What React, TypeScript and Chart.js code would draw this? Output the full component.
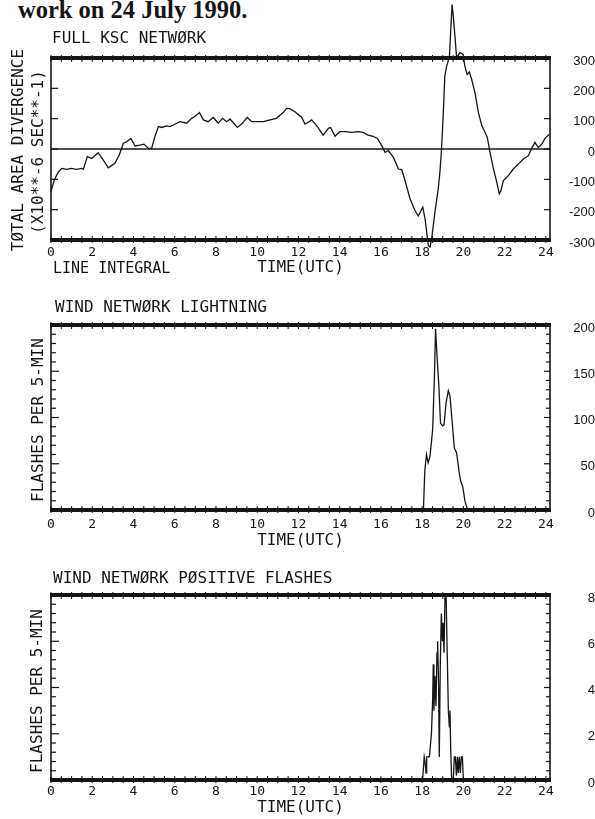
import React, { useEffect, useRef } from "react";
import { Chart, registerables } from "chart.js";

Chart.register(...registerables);

// ---------- data ----------
const hourTicks = [0, 2, 4, 6, 8, 10, 12, 14, 16, 18, 20, 22, 24];
const X_MAX = 24.2;

// Panel 1: total area divergence (x10**-6 s**-1), line integral, full KSC network
const divTimes = [
  0, 0.16, 0.36, 0.52, 0.76, 0.99, 1.24, 1.49, 1.57, 1.76, 1.97, 2.29, 2.53, 2.78, 3.1, 3.31,
  3.51, 3.67, 3.87, 4.08, 4.31, 4.51, 4.72, 4.88, 5.04, 5.21, 5.37, 5.61, 5.77, 5.93, 6.26,
  6.58, 6.82, 6.98, 7.2, 7.39, 7.62, 7.87, 8.11, 8.32, 8.52, 8.68, 9.04, 9.24, 9.52, 9.73,
  9.97, 10.3, 10.62, 10.93, 11.26, 11.43, 11.59, 11.83, 12.15, 12.32, 12.48, 12.64, 12.88,
  13.2, 13.45, 13.56, 13.77, 14.01, 14.25, 14.58, 14.91, 15.13, 15.38, 15.62, 15.83, 16.04,
  16.2, 16.36, 16.6, 16.85, 17.01, 17.17, 17.41, 17.65, 17.81, 18.03, 18.14, 18.3, 18.38,
  18.46, 18.62, 18.78, 18.86, 18.94, 19.02, 19.1, 19.19, 19.32, 19.38, 19.45, 19.51, 19.59,
  19.67, 19.83, 19.99, 20.07, 20.18, 20.29, 20.4, 20.56, 20.73, 20.89, 21.05, 21.16, 21.29,
  21.46, 21.62, 21.74, 21.82, 21.94, 22.18, 22.42, 22.67, 22.91, 23.15, 23.31, 23.47, 23.63,
  23.8, 23.96, 24.17,
];
const divValues = [
  -140, -102, -75, -64, -67, -64, -67, -64, -67, -25, -31, -12, -36, -62, -47, -20,
  19, 24, 35, 10, 13, 16, 2, 2, 41, 74, 71, 76, 74, 79, 90,
  85, 101, 107, 120, 96, 90, 104, 85, 101, 90, 99, 71, 82, 104, 90,
  90, 90, 96, 101, 120, 134, 132, 123, 105, 82, 88, 96, 77,
  46, 68, 71, 42, 57, 57, 55, 57, 55, 46, 42, 35, 11,
  -11, -5, -27, -66, -68, -104, -164, -203, -221, -192, -230, -318, -323,
  -296, -208, -131, -77, 0, 110, 241, 274, 301, 383, 476, 438, 372,
  301, 318, 312, 274, 246, 254, 230, 186, 120, 77, 55, 38, -11,
  -66, -110, -148, -137, -104, -88, -66, -49, -33, -22, 2, 22, 5,
  16, 35, 49,
];
const divTicks = [-300, -200, -100, 0, 100, 200, 300];

// Panel 2: wind network lightning, flashes per 5 min
const lightTimes = [
  0, 18.06, 18.13, 18.21, 18.29, 18.38, 18.51, 18.59, 18.65, 18.72, 18.81, 18.89, 18.99,
  19.06, 19.16, 19.27, 19.35, 19.46, 19.56, 19.67, 19.8, 19.87, 19.97, 20.08, 20.21, 24.2,
];
const lightValues = [
  0, 0, 43, 60, 51, 58, 87, 141, 196, 167, 134, 94, 91,
  92, 116, 129, 123, 94, 67, 62, 40, 31, 25, 9, 0, 0,
];
const lightTicks = [0, 50, 100, 150, 200];

// Panel 3: wind network positive flashes, flashes per 5 min
const posTimes = [
  0, 18.02, 18.1, 18.14, 18.19, 18.22, 18.27, 18.35, 18.45, 18.51, 18.54, 18.57, 18.62,
  18.67, 18.72, 18.75, 18.8, 18.83, 18.88, 18.93, 18.98, 19.02, 19.06, 19.11, 19.16, 19.27,
  19.32, 19.35, 19.38, 19.43, 19.51, 19.56, 19.61, 19.66, 19.71, 19.75, 19.8, 19.85, 19.9,
  19.95, 20.0, 24.2,
];
const posValues = [
  0, 0, 1, 0.8, 0.3, 1, 1, 1, 2, 3.5, 5, 3, 4.5,
  3.2, 5.5, 6, 4, 1, 5, 7.2, 6, 6.8, 5.5, 8, 8, 3,
  2.3, 3, 1.5, 0, 0, 1, 1, 0.2, 1, 0.3, 1, 0.3, 1,
  1, 0, 0,
];
const posTicks = [0, 2, 4, 6, 8];

// ---------- styling ----------
const MONO = '"DejaVu Sans Mono", monospace';
const INK = "#151515";

const framePlugin = {
  id: "frame",
  beforeDatasetsDraw(chart: any, _args: any, opts: any) {
    const { ctx, chartArea: a, scales } = chart;
    const xs = scales.x;
    const ys = scales.y;
    const line = (x1: number, y1: number, x2: number, y2: number) => {
      ctx.beginPath();
      ctx.moveTo(x1, y1);
      ctx.lineTo(x2, y2);
      ctx.stroke();
    };
    ctx.save();
    ctx.strokeStyle = INK;
    if (opts.zero) {
      ctx.lineWidth = 1.3;
      const py = ys.getPixelForValue(0);
      line(a.left, py, a.right, py);
    }
    ctx.lineWidth = 1.6;
    line(a.left, a.top, a.left, a.bottom);
    line(a.right, a.top, a.right, a.bottom);
    const n = Math.round((ys.max - ys.min) / opts.minor);
    ctx.lineWidth = 1.2;
    for (let i = 0; i <= n; i++) {
      const v = ys.min + i * opts.minor;
      const py = ys.getPixelForValue(v);
      const r = v / opts.major;
      const isMajor = Math.abs(r - Math.round(r)) < 1e-6;
      const ll = isMajor ? opts.leftMajor : opts.leftMinor;
      const rl = isMajor ? opts.rightMajor : opts.rightMinor;
      line(a.left, py, a.left + ll, py);
      line(a.right - rl, py, a.right, py);
    }
    ctx.lineWidth = 1;
    for (let i = 0; i <= 48; i++) {
      const px = xs.getPixelForValue(i * 0.5);
      line(px, a.top - 3, px, a.top + 4);
      line(px, a.bottom - 4, px, a.bottom + 3);
    }
    ctx.lineWidth = 4;
    line(a.left - 1, a.top, a.right + 1, a.top);
    line(a.left - 1, a.bottom, a.right + 1, a.bottom);
    ctx.restore();
  },
};

type PanelProps = {
  top: number;
  height: number;
  padTop: number;
  xHeight: number;
  tickPad: number;
  titlePad: number;
  times: number[];
  values: number[];
  yTicks: number[];
  labelPad: number;
  minor: number;
  major: number;
  leftMinor: number;
  leftMajor: number;
  zero: boolean;
};

function Panel(p: PanelProps) {
  const ref = useRef<HTMLCanvasElement>(null);
  useEffect(() => {
    const pts = p.times.map((t, i) => ({ x: t, y: p.values[i] }));
    const chart = new Chart(ref.current as HTMLCanvasElement, {
      type: "line",
      data: {
        datasets: [
          {
            data: pts,
            borderColor: INK,
            borderWidth: 1.3,
            pointRadius: 0,
            fill: false,
            tension: 0,
            clip: false as any,
          },
        ],
      },
      options: {
        responsive: false,
        animation: false,
        events: [],
        layout: { padding: { top: p.padTop, left: 51, right: 0, bottom: 0 } },
        plugins: {
          legend: { display: false },
          tooltip: { enabled: false },
          // @ts-ignore
          frame: {
            zero: p.zero,
            minor: p.minor,
            major: p.major,
            leftMinor: p.leftMinor,
            leftMajor: p.leftMajor,
            rightMinor: 4,
            rightMajor: 6,
          },
        },
        scales: {
          x: {
            type: "linear",
            position: "bottom",
            min: 0,
            max: X_MAX,
            grid: { display: false, drawTicks: false },
            border: { display: false },
            afterBuildTicks: (s: any) => {
              s.ticks = hourTicks.map((v) => ({ value: v }));
            },
            afterFit: (s: any) => {
              s.height = p.xHeight;
            },
            ticks: {
              autoSkip: false,
              maxRotation: 0,
              padding: p.tickPad,
              font: { family: MONO, size: 13 },
              color: INK,
            },
            title: {
              display: true,
              text: "TIME(UTC)",
              font: { family: MONO, size: 16, lineHeight: 1.2 },
              color: INK,
              padding: { top: 0, bottom: p.titlePad },
            },
          },
          y: {
            type: "linear",
            position: "right",
            min: p.yTicks[0],
            max: p.yTicks[p.yTicks.length - 1],
            grid: { display: false, drawTicks: false },
            border: { display: false },
            afterBuildTicks: (s: any) => {
              s.ticks = p.yTicks.map((v) => ({ value: v }));
            },
            afterFit: (s: any) => {
              s.width = 45;
            },
            ticks: {
              padding: p.labelPad,
              crossAlign: "far",
              labelOffset: 3,
              font: { family: '"Liberation Sans", Arial, sans-serif', size: 13 },
              color: INK,
            },
          },
        },
      } as any,
      plugins: [framePlugin as any],
    });
    return () => chart.destroy();
  }, []);
  return (
    <canvas
      ref={ref}
      width={595}
      height={p.height}
      style={{ position: "absolute", left: 0, top: p.top, width: 595, height: p.height }}
    />
  );
}

function Text(props: { left: number; top: number; size: number; children: React.ReactNode }) {
  return (
    <div
      style={{
        position: "absolute",
        left: props.left,
        top: props.top,
        font: `${props.size}px ${MONO}`,
        lineHeight: `${props.size}px`,
        whiteSpace: "nowrap",
        color: INK,
      }}
    >
      {props.children}
    </div>
  );
}

function VText(props: { cx: number; cy: number; size: number; text: string }) {
  const w = 320;
  const h = 20;
  return (
    <div
      style={{
        position: "absolute",
        left: props.cx - w / 2,
        top: props.cy - h / 2,
        width: w,
        height: h,
        lineHeight: `${h}px`,
        textAlign: "center",
        transform: "rotate(-90deg)",
        font: `${props.size}px ${MONO}`,
        whiteSpace: "nowrap",
        color: INK,
      }}
    >
      {props.text}
    </div>
  );
}

export default function App() {
  return (
    <div
      style={{
        position: "absolute",
        left: 0,
        top: 0,
        width: 595,
        height: 819,
        overflow: "hidden",
        background: "#fff",
      }}
    >
      <div
        style={{
          position: "absolute",
          left: 18,
          top: -2,
          font: 'bold 24.5px "Liberation Serif", serif',
          lineHeight: "24px",
          whiteSpace: "nowrap",
          color: INK,
        }}
      >
        work on 24 July 1990.
      </div>

      <Panel
        top={0}
        height={280}
        padTop={58}
        xHeight={40}
        tickPad={5}
        titlePad={2.4}
        times={divTimes}
        values={divValues}
        yTicks={divTicks}
        labelPad={15}
        minor={100}
        major={100}
        leftMinor={7}
        leftMajor={7}
        zero={true}
      />
      <Panel
        top={290}
        height={265}
        padTop={35}
        xHeight={45}
        tickPad={7}
        titlePad={4.4}
        times={lightTimes}
        values={lightValues}
        yTicks={lightTicks}
        labelPad={11}
        minor={10}
        major={50}
        leftMinor={5}
        leftMajor={8}
        zero={false}
      />
      <Panel
        top={560}
        height={259}
        padTop={35}
        xHeight={39}
        tickPad={4}
        titlePad={1.4}
        times={posTimes}
        values={posValues}
        yTicks={posTicks}
        labelPad={23}
        minor={0.4}
        major={2}
        leftMinor={5}
        leftMajor={8}
        zero={false}
      />

      <Text left={52} top={30} size={16}>FULL KSC NETWØRK</Text>
      <Text left={53} top={261} size={15}>LINE INTEGRAL</Text>
      <Text left={55} top={299} size={16}>WIND NETWØRK LIGHTNING</Text>
      <Text left={53} top={570} size={16}>WIND NETWØRK PØSITIVE FLASHES</Text>

      <VText cx={18} cy={150} size={16} text="TØTAL AREA DIVERGENCE" />
      <VText cx={38} cy={152} size={16} text="(X10**-6 SEC**-1)" />
      <VText cx={38} cy={420} size={16} text="FLASHES PER 5-MIN" />
      <VText cx={37} cy={691} size={16} text="FLASHES PER 5-MIN" />
    </div>
  );
}
